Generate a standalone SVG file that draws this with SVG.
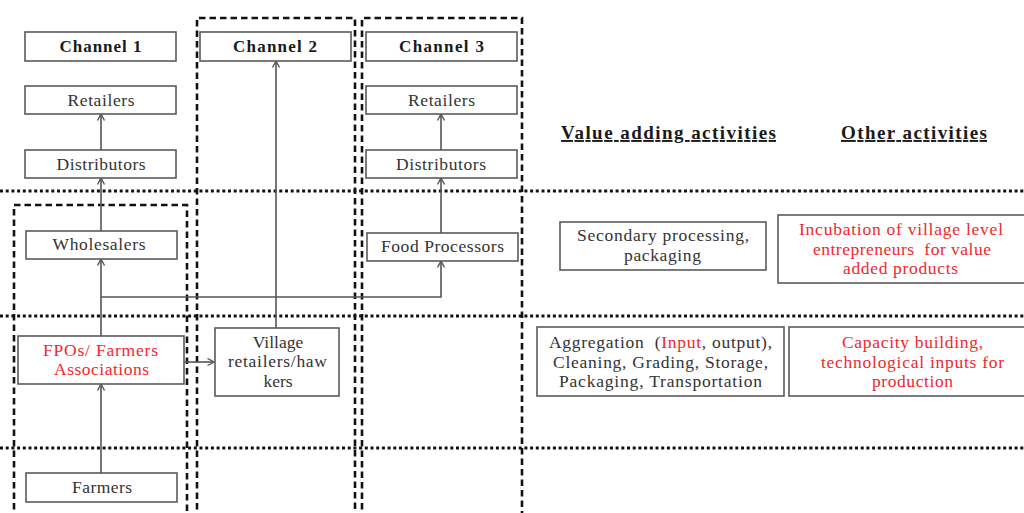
<svg xmlns="http://www.w3.org/2000/svg" width="1024" height="513" viewBox="0 0 1024 513">
  <style>
    .box { fill: #ffffff; stroke: #5a5a5a; stroke-width: 1.6; }
    .lbl { font-family: "Liberation Serif", "Times New Roman", serif; font-size: 17.5px; fill: #333333; text-anchor: middle; }
    .red { fill: #f0282d; }
    .bold { font-weight: bold; font-size: 17px; fill: #1a1a1a; }
    .head { font-family: "Liberation Serif", "Times New Roman", serif; font-size: 19px; font-weight: bold; fill: #1a1a1a; text-decoration: underline; }
    .dash { fill: none; stroke: #111111; stroke-width: 2.6; stroke-dasharray: 6.5 4; }
    .dots { fill: none; stroke: #111111; stroke-width: 3; stroke-dasharray: 3 2.7; }
    .link { fill: none; stroke: #555555; stroke-width: 1.6; }
  </style>
  <defs>
    <marker id="arrow" markerWidth="10" markerHeight="10" refX="7" refY="4" orient="auto" markerUnits="userSpaceOnUse">
      <path d="M0.5,0.5 L7,4 L0.5,7.5" fill="none" stroke="#555555" stroke-width="1.4"/>
    </marker>
  </defs>
  <rect width="1024" height="513" fill="#ffffff"/>

  <!-- channel frames (dashed) -->
  <g id="frames">
    <path class="dash" d="M14,520 V205 H187 V520"/>
    <path class="dash" d="M197,520 V18 H355 V520"/>
    <path class="dash" d="M362,520 V18 H522 V520"/>
  </g>

  <!-- level separators (dotted) -->
  <g id="levels">
    <line class="dots" x1="0" y1="191" x2="1024" y2="191"/>
    <line class="dots" x1="0" y1="316" x2="1024" y2="316"/>
    <line class="dots" x1="0" y1="448" x2="1024" y2="448"/>
  </g>

  <!-- connectors -->
  <g id="connectors">
    <line class="link" x1="101" y1="473" x2="101" y2="384" marker-end="url(#arrow)"/>
    <line class="link" x1="101" y1="336" x2="101" y2="259" marker-end="url(#arrow)"/>
    <line class="link" x1="101" y1="231" x2="101" y2="178" marker-end="url(#arrow)"/>
    <line class="link" x1="101" y1="150" x2="101" y2="114" marker-end="url(#arrow)"/>
    <polyline class="link" points="101,297 441,297 441,261" marker-end="url(#arrow)"/>
    <line class="link" x1="441" y1="233" x2="441" y2="178" marker-end="url(#arrow)"/>
    <line class="link" x1="441" y1="150" x2="441" y2="114" marker-end="url(#arrow)"/>
    <line class="link" x1="276" y1="328" x2="276" y2="61" marker-end="url(#arrow)"/>
    <line class="link" x1="184" y1="362" x2="214" y2="362" marker-end="url(#arrow)"/>
  </g>

  <!-- channel 1 -->
  <g id="channel1">
    <rect class="box" x="25" y="32" width="151" height="29"/>
    <text class="lbl bold" x="100.5" y="52" textLength="82" lengthAdjust="spacing">Channel 1</text>
  </g>
  <g id="retailers1">
    <rect class="box" x="25" y="86" width="151" height="28"/>
    <text class="lbl" x="101" y="106" textLength="67" lengthAdjust="spacing">Retailers</text>
  </g>
  <g id="distributors1">
    <rect class="box" x="25" y="150" width="151" height="28"/>
    <text class="lbl" x="101" y="170" textLength="89" lengthAdjust="spacing">Distributors</text>
  </g>
  <g id="wholesalers">
    <rect class="box" x="26" y="231" width="151" height="28"/>
    <text class="lbl" x="99" y="250" textLength="93" lengthAdjust="spacing">Wholesalers</text>
  </g>
  <g id="fpos">
    <rect class="box" x="18" y="336" width="166" height="48"/>
    <text class="lbl red" x="100.5" y="356" textLength="115" lengthAdjust="spacing">FPOs/ Farmers</text>
    <text class="lbl red" x="101.5" y="375" textLength="95" lengthAdjust="spacing">Associations</text>
  </g>
  <g id="farmers">
    <rect class="box" x="26" y="473" width="151" height="29"/>
    <text class="lbl" x="102" y="493" textLength="60" lengthAdjust="spacing">Farmers</text>
  </g>

  <!-- channel 2 -->
  <g id="channel2">
    <rect class="box" x="200" y="32" width="151" height="29"/>
    <text class="lbl bold" x="275" y="52" textLength="84" lengthAdjust="spacing">Channel 2</text>
  </g>
  <g id="village">
    <rect class="box" x="215" y="328" width="124" height="68"/>
    <text class="lbl" x="278" y="348">Village</text>
    <text class="lbl" x="277.5" y="367" textLength="99" lengthAdjust="spacing">retailers/haw</text>
    <text class="lbl" x="278" y="387">kers</text>
  </g>

  <!-- channel 3 -->
  <g id="channel3">
    <rect class="box" x="366" y="32" width="151" height="29"/>
    <text class="lbl bold" x="441.5" y="52" textLength="85" lengthAdjust="spacing">Channel 3</text>
  </g>
  <g id="retailers3">
    <rect class="box" x="366" y="86" width="151" height="28"/>
    <text class="lbl" x="441.5" y="106" textLength="67" lengthAdjust="spacing">Retailers</text>
  </g>
  <g id="distributors3">
    <rect class="box" x="366" y="150" width="151" height="28"/>
    <text class="lbl" x="441" y="170" textLength="90" lengthAdjust="spacing">Distributors</text>
  </g>
  <g id="processors">
    <rect class="box" x="367" y="233" width="151" height="28"/>
    <text class="lbl" x="442.5" y="252" textLength="123" lengthAdjust="spacing">Food Processors</text>
  </g>

  <!-- activity columns -->
  <g id="headings">
    <text class="head" x="561" y="139" textLength="215" lengthAdjust="spacing">Value adding activities</text>
    <text class="head" x="841" y="139" textLength="146" lengthAdjust="spacing">Other activities</text>
  </g>
  <g id="secondary">
    <rect class="box" x="560" y="222" width="206" height="48"/>
    <text class="lbl" x="663" y="241" textLength="172" lengthAdjust="spacing">Secondary processing,</text>
    <text class="lbl" x="662.5" y="261" textLength="77" lengthAdjust="spacing">packaging</text>
  </g>
  <g id="incubation">
    <rect class="box" x="778" y="215" width="250" height="68"/>
    <text class="lbl red" x="901" y="235" textLength="204" lengthAdjust="spacing">Incubation of village level</text>
    <text class="lbl red" x="902" y="255" textLength="178" lengthAdjust="spacing">entrepreneurs&#160; for value</text>
    <text class="lbl red" x="900.5" y="274" textLength="115" lengthAdjust="spacing">added products</text>
  </g>
  <g id="aggregation">
    <rect class="box" x="537" y="327" width="247" height="69"/>
    <text class="lbl" x="660.5" y="348" textLength="223" lengthAdjust="spacing">Aggregation&#160; (<tspan class="red">Input</tspan>, output),</text>
    <text class="lbl" x="660.5" y="368" textLength="215" lengthAdjust="spacing">Cleaning, Grading, Storage,</text>
    <text class="lbl" x="660.5" y="387" textLength="203" lengthAdjust="spacing">Packaging, Transportation</text>
  </g>
  <g id="capacity">
    <rect class="box" x="789" y="327" width="240" height="69"/>
    <text class="lbl red" x="912.5" y="348" textLength="141" lengthAdjust="spacing">Capacity building,</text>
    <text class="lbl red" x="912.5" y="368" textLength="183" lengthAdjust="spacing">technological inputs for</text>
    <text class="lbl red" x="912.5" y="387" textLength="81" lengthAdjust="spacing">production</text>
  </g>
</svg>
